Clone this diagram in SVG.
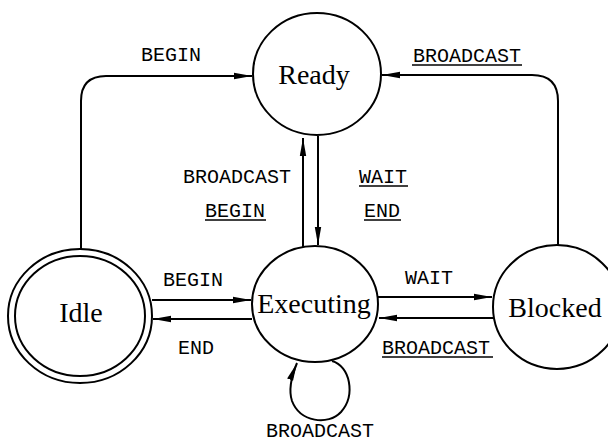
<svg xmlns="http://www.w3.org/2000/svg" width="608" height="443" viewBox="0 0 608 443">
  <style>
    .state { fill: #fff; stroke: #000; stroke-width: 2; }
    .name { font-family: "Liberation Serif", "Times New Roman", serif; font-size: 28px; fill: #000; text-anchor: middle; }
    .edge { fill: none; stroke: #000; stroke-width: 2; marker-end: url(#head); }
    .lbl { font-family: "Liberation Mono", "Courier New", monospace; font-size: 20px; fill: #000; }
    .ul { stroke: #000; stroke-width: 1.5; }
  </style>
  <defs>
    <marker id="head" viewBox="0 0 18 8" markerWidth="18" markerHeight="8" refX="18" refY="4" orient="auto" markerUnits="userSpaceOnUse">
      <path d="M0,0.8 L18,4 L0,7.2 z" fill="#000"/>
    </marker>
  </defs>

  <!-- transitions -->
  <g id="connectors">
    <path class="edge" d="M81,249 V101 Q81,76 106,76 H252"/>
    <path class="edge" d="M558,245 V101 Q558,75 532,75 H382"/>
    <path class="edge" d="M303,247 V138"/>
    <path class="edge" d="M318,136 V245"/>
    <path class="edge" d="M152,300 H251"/>
    <path class="edge" d="M252,319 H153"/>
    <path class="edge" d="M378,297 H492"/>
    <path class="edge" d="M494,318 H379"/>
    <path class="edge" d="M332,361 C350,366 356,395 341,412 C328,426 300,422 292,401 C288,389 292,375 297,363"/>
  </g>

  <!-- transition labels -->
  <g id="labels">
    <text class="lbl" x="141" y="61">BEGIN</text>
    <text class="lbl" x="413" y="62">BROADCAST</text>
    <line class="ul" x1="412" y1="65" x2="522" y2="65"/>
    <text class="lbl" x="183" y="183">BROADCAST</text>
    <text class="lbl" x="205" y="217">BEGIN</text>
    <line class="ul" x1="205" y1="220" x2="266" y2="220"/>
    <text class="lbl" x="359" y="183">WAIT</text>
    <line class="ul" x1="359" y1="186" x2="408" y2="186"/>
    <text class="lbl" x="364" y="217">END</text>
    <line class="ul" x1="364" y1="220" x2="401" y2="220"/>
    <text class="lbl" x="163" y="286">BEGIN</text>
    <text class="lbl" x="178" y="354">END</text>
    <text class="lbl" x="405" y="284">WAIT</text>
    <text class="lbl" x="382" y="354">BROADCAST</text>
    <line class="ul" x1="382" y1="357" x2="493" y2="357"/>
    <text class="lbl" x="266" y="437">BROADCAST</text>
  </g>

  <!-- states -->
  <g id="ready">
    <ellipse class="state" cx="317" cy="74" rx="64" ry="61"/>
    <text class="name" x="314" y="84">Ready</text>
  </g>
  <g id="idle">
    <ellipse class="state" cx="80" cy="316" rx="72" ry="67"/>
    <ellipse class="state" cx="80" cy="316" rx="65" ry="60"/>
    <text class="name" x="81" y="322">Idle</text>
  </g>
  <g id="executing">
    <ellipse class="state" cx="315" cy="304" rx="63" ry="58"/>
    <text class="name" x="314" y="313">Executing</text>
  </g>
  <g id="blocked">
    <ellipse class="state" cx="557" cy="307" rx="64" ry="62"/>
    <text class="name" x="555" y="317">Blocked</text>
  </g>
</svg>
